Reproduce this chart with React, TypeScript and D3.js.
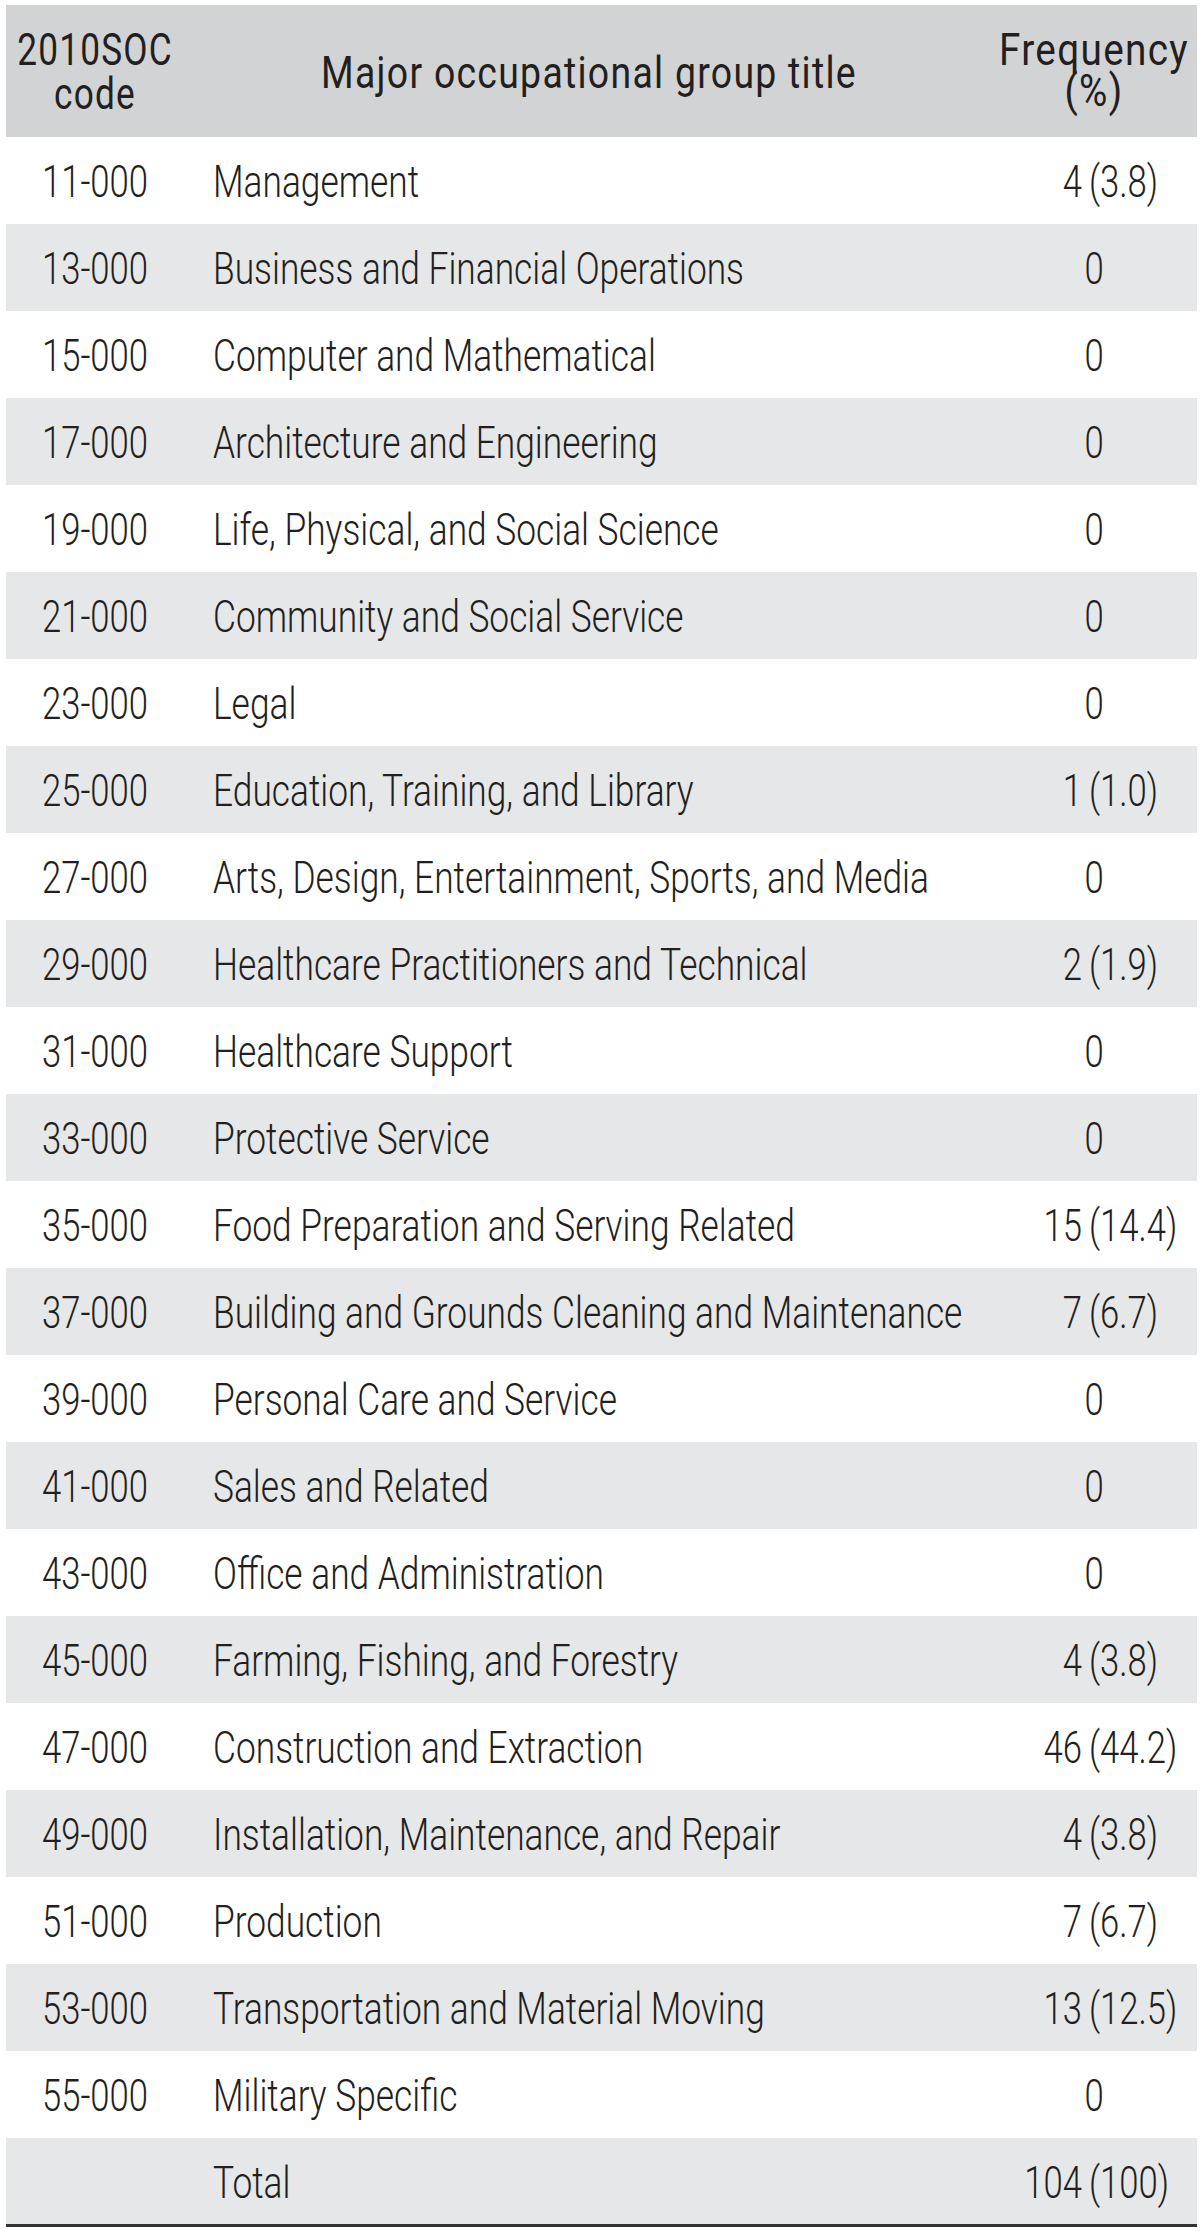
import React from "react";
import * as d3 from "d3";

const codes = ["11-000","13-000","15-000","17-000","19-000","21-000","23-000","25-000","27-000","29-000","31-000","33-000","35-000","37-000","39-000","41-000","43-000","45-000","47-000","49-000","51-000","53-000","55-000"];
const titles = ["Management","Business and Financial Operations","Computer and Mathematical","Architecture and Engineering","Life, Physical, and Social Science","Community and Social Service","Legal","Education, Training, and Library","Arts, Design, Entertainment, Sports, and Media","Healthcare Practitioners and Technical","Healthcare Support","Protective Service","Food Preparation and Serving Related","Building and Grounds Cleaning and Maintenance","Personal Care and Service","Sales and Related","Office and Administration","Farming, Fishing, and Forestry","Construction and Extraction","Installation, Maintenance, and Repair","Production","Transportation and Material Moving","Military Specific"];
const counts = [4,0,0,0,0,0,0,1,0,2,0,0,15,7,0,0,0,4,46,4,7,13,0];
const percents = ["3.8","","","","","","","1.0","","1.9","","","14.4","6.7","","","","3.8","44.2","3.8","6.7","12.5",""];
const totalLabel = "Total";
const totalCount = 104;
const totalPct = "100";
const headers = [["2010SOC", "code"], ["Major occupational group title"], ["Frequency", "(%)"]];

const W = 1200, H = 2231;
const FONT = "Roboto, 'Liberation Sans', sans-serif";
const INK = "#231f20";
const SX = 0.785;
const SXC = 0.77;

function T({ x, y, anchor = "start", sx = SX, children, ...rest }: any) {
  return (
    <text transform={`translate(${x},${y}) scale(${sx},1)`} textAnchor={anchor} {...rest}>
      {children}
    </text>
  );
}

export default function App() {
  const rows = codes.map((c, i) => ({ code: c, title: titles[i], count: counts[i], pct: percents[i] }));
  rows.push({ code: "", title: totalLabel, count: totalCount, pct: totalPct });
  const y = d3.scaleBand<number>().domain(d3.range(rows.length)).range([137, 2225]).padding(0);
  const x0 = 6, x1 = 1197;
  const codeX = 95, titleX = 213, parenX = 1089, zeroX = 1094;
  return (
    <svg width={W} height={H} style={{ position: "absolute", left: 0, top: 0, background: "#fff" }} fontFamily={FONT}>
      <rect x={0} y={0} width={W} height={H} fill="#fff" />
      <rect x={x0} y={5} width={x1 - x0} height={132} fill="#d1d3d4" />
      <g fill={INK} fontSize={44} fontWeight={400} style={{ letterSpacing: "1.5px" }}>
        <T x={codeX} y={65} anchor="middle" sx={0.8}>{headers[0][0]}</T>
        <T x={codeX} y={109} anchor="middle" sx={0.8}>{headers[0][1]}</T>
        <T x={589} y={88} anchor="middle" sx={0.85}>{headers[1][0]}</T>
        <T x={1094} y={65} anchor="middle" sx={0.88}>{headers[2][0]}</T>
        <T x={1094} y={106} anchor="middle" sx={0.88}>{headers[2][1]}</T>
      </g>
      {rows.map((r, i) => {
        const top = y(i)!;
        const base = top + 60;
        return (
          <g key={i}>
            {i % 2 === 1 && <rect x={x0} y={top} width={x1 - x0} height={y.bandwidth()} fill="#e6e7e8" />}
            <g fill={INK} fontSize={45} fontWeight={300}>
              {r.code && <T x={codeX} y={base} anchor="middle" sx={SXC}>{r.code}</T>}
              <T x={titleX} y={base}>{r.title}</T>
              {r.count === 0 ? (
                <T x={zeroX} y={base} anchor="middle" sx={SXC}>0</T>
              ) : (
                <>
                  <T x={parenX - 7} y={base} anchor="end" sx={SXC}>{r.count}</T>
                  <T x={parenX} y={base} sx={SXC}>{`(${r.pct})`}</T>
                </>
              )}
            </g>
          </g>
        );
      })}
      <line x1={x0} x2={x1} y1={2225.5} y2={2225.5} stroke="#333" strokeWidth={3} />
    </svg>
  );
}
